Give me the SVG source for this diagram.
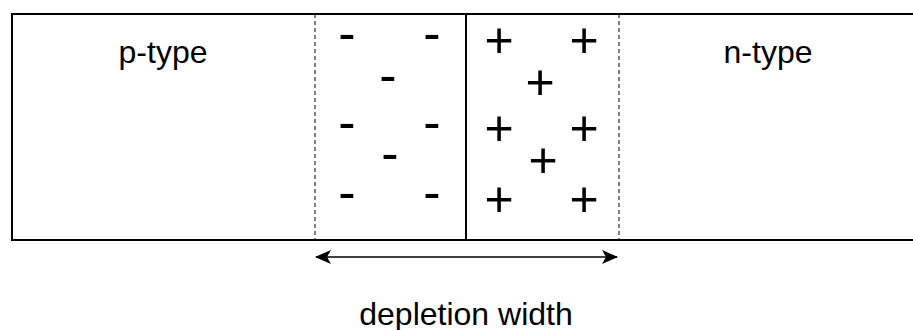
<svg xmlns="http://www.w3.org/2000/svg" width="913" height="330" viewBox="0 0 913 330">
<style>
.lbl{font-family:"Liberation Sans",Arial,sans-serif;font-size:32px;fill:#000;text-anchor:middle}
.plus{font-family:"Liberation Sans",Arial,sans-serif;font-size:50px;fill:#000;text-anchor:middle}
.minus{font-family:"Liberation Sans",Arial,sans-serif;font-size:52px;fill:#000;text-anchor:middle}
.edge{stroke:#000;stroke-width:2;fill:none}
.dash{stroke:#000;stroke-width:1;stroke-dasharray:4 3;fill:none}
</style>
<defs>
<marker id="ah" viewBox="0 0 16 14" refX="15" refY="7" markerWidth="16" markerHeight="14" markerUnits="userSpaceOnUse" orient="auto-start-reverse">
<path d="M0,0 L16,7 L0,14 L4,7 Z" fill="#000"/>
</marker>
</defs>
<g id="p-region">
<path class="edge" d="M913,14 H12 V240 H913"/>
<text class="lbl" x="163" y="63">p-type</text>
</g>
<g id="n-region">
<text class="lbl" x="768" y="63">n-type</text>
</g>
<g id="depletion">
<line class="dash" x1="315" y1="14" x2="315" y2="240"/>
<line class="dash" x1="619" y1="14" x2="619" y2="240"/>
<line class="edge" x1="466" y1="14" x2="466" y2="240"/>
<text class="minus" x="347" y="51">-</text>
<text class="minus" x="432" y="51">-</text>
<text class="minus" x="388" y="93">-</text>
<text class="minus" x="347" y="140">-</text>
<text class="minus" x="432" y="140">-</text>
<text class="minus" x="390" y="171">-</text>
<text class="minus" x="347" y="210">-</text>
<text class="minus" x="432" y="210">-</text>
<text class="plus" x="499" y="57">+</text>
<text class="plus" x="584" y="57">+</text>
<text class="plus" x="540" y="99">+</text>
<text class="plus" x="499" y="145">+</text>
<text class="plus" x="584" y="145">+</text>
<text class="plus" x="543" y="177">+</text>
<text class="plus" x="499" y="216">+</text>
<text class="plus" x="584" y="216">+</text>
</g>
<g id="connectors">
<line x1="316" y1="257" x2="617" y2="257" stroke="#000" stroke-width="1.5" marker-start="url(#ah)" marker-end="url(#ah)"/>
</g>
<text class="lbl" x="466" y="325">depletion width</text>
</svg>
